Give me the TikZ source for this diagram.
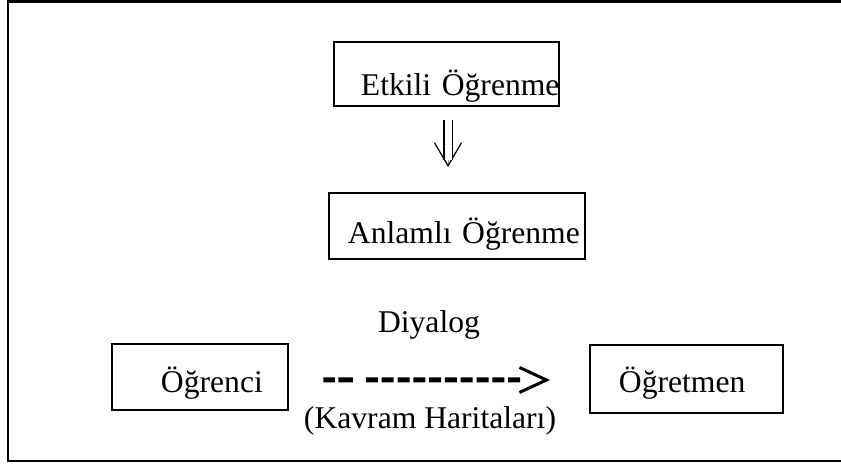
\documentclass[tikz,border=0pt]{standalone}
\usepackage{fontspec}
\setmainfont{Liberation Serif}
\usetikzlibrary{arrows.meta}
\def\fw{16.82}
\def\fh{9.26}

\begin{document}
\begin{tikzpicture}
    [
        lbl/.style={font=\fontsize{18}{22}\selectfont, inner sep=0pt},
        cbox/.style={lbl, draw, line width=1.1pt, anchor=north west, align=left},
        frameLine/.style={black, line width=1.7pt},
        shaft/.style={double, double distance=0.14cm, line width=0.6pt},
        shaftTip/.style={line width=0.01pt,
            -{Straight Barb[length=0.46cm, width=0.54cm, line width=0.7pt 0]}},
        dialog/.style={line width=0.1cm,
            dash pattern=on 0.23cm off 0.07cm on 0.29cm off 0.26cm
                on 0.24cm off 0.076cm on 0.24cm off 0.076cm on 0.24cm off 0.076cm
                on 0.24cm off 0.076cm on 0.24cm off 0.076cm on 0.24cm off 0.076cm
                on 0.24cm off 0.076cm on 0.24cm off 0.076cm on 0.24cm off 0.076cm
                on 0.24cm off 3cm,
            -{Straight Barb[length=0.54cm, width=0.5cm, line width=1.7pt 0]}}
    ]
%    \draw[style=help lines,step=0.5cm] (0,0) grid (\fw,\fh);
    \draw[frameLine] (\fw, 9.23) -- (0.16, 9.23) -- (0.16, 0.04) -- (\fw, 0.04);

    \node[cbox, text width=4.5cm, text height=1.08cm, text depth=0.2cm]
        (etkili) at (6.66, 8.44) {\mbox{\hspace{0.54cm}Etkili Öğrenme}};
    \node[cbox, text width=5.12cm, text height=1.02cm, text depth=0.3cm]
        (anlamli) at (6.56, 5.42) {\mbox{\hspace{0.38cm}Anlamlı Öğrenme}};
    \node[cbox, text width=3.52cm, text height=0.98cm, text depth=0.34cm]
        (ogrenci) at (2.22, 2.4) {\mbox{\hspace{0.98cm}Öğrenci}};
    \node[cbox, text width=3.86cm, text height=0.96cm, text depth=0.4cm]
        (ogretmen) at (11.78, 2.38) {\mbox{\hspace{0.58cm}Öğretmen}};

    \node[lbl, anchor=base] (diyalog) at (8.58, 2.62) {Diyalog};
    \node[lbl, anchor=base] (kavram) at (8.6, 0.7) {(Kavram Haritaları)};

    \coordinate[] (ax) at (8.96, 0);
    \draw[shaftTip, shorten <=0.26cm, shorten >=0.5cm] (etkili.south -| ax) -- (anlamli.north -| ax);
    \draw[shaft, shorten <=0.26cm, shorten >=0.64cm] (etkili.south -| ax) -- (anlamli.north -| ax);
    \draw[dialog, shorten <=0.69cm, shorten >=0.78cm]
        ([yshift=-0.06cm]ogrenci.east) -- ([yshift=-0.02cm]ogretmen.west);

    \pgfresetboundingbox
    \useasboundingbox (0,0) rectangle (\fw,\fh);
\end{tikzpicture}
\end{document}
